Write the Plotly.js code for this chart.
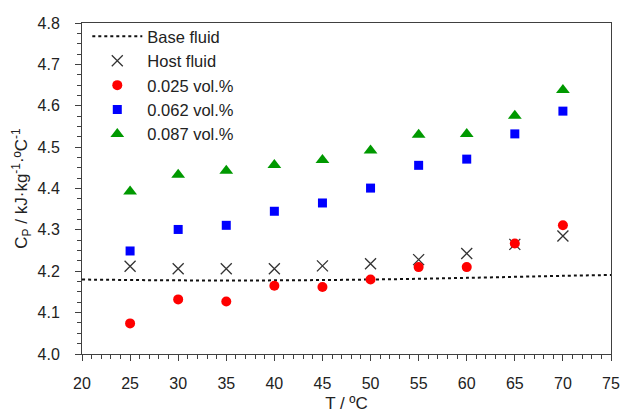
<!DOCTYPE html>
<html>
<head>
<meta charset="utf-8">
<script src="https://cdn.plot.ly/plotly-3.0.1.min.js"></script>
<style>html,body{margin:0;padding:0;background:#fff;}#chart{width:623px;height:413px;}</style>
</head>
<body>
<div id="chart"></div>
<script>
// Temperatures (°C)
const temps = [25, 30, 35, 40, 45, 50, 55, 60, 65, 70];
// Base fluid (dotted curve)
const baseT = [20, 30, 40, 50, 60, 70, 75];
const baseCp = [4.180, 4.178, 4.178, 4.180, 4.184, 4.189, 4.191];
// Host fluid
const hostCp = [4.212, 4.206, 4.206, 4.206, 4.213, 4.218, 4.228, 4.243, 4.265, 4.285];
// 0.025 vol.%
const cp025 = [4.074, 4.132, 4.127, 4.165, 4.162, 4.180, 4.210, 4.210, 4.267, 4.311];
// 0.062 vol.%
const cp062 = [4.249, 4.301, 4.311, 4.345, 4.365, 4.401, 4.456, 4.471, 4.532, 4.587];
// 0.087 vol.%
const cp087 = [4.393, 4.433, 4.443, 4.457, 4.469, 4.492, 4.530, 4.532, 4.576, 4.638];
const names = ['Base fluid', 'Host fluid', '0.025 vol.%', '0.062 vol.%', '0.087 vol.%'];

const traces = [
  {x: baseT, y: baseCp, name: names[0], mode: 'lines', line: {color: '#111', width: 2, dash: 'dot', shape: 'spline'}},
  {x: temps, y: hostCp, name: names[1], mode: 'markers', marker: {symbol: 'x-thin-open', size: 11, line: {color: '#333', width: 1.3}, color: '#333'}},
  {x: temps, y: cp025, name: names[2], mode: 'markers', marker: {symbol: 'circle', size: 10, color: '#ff0000'}},
  {x: temps, y: cp062, name: names[3], mode: 'markers', marker: {symbol: 'square', size: 9, color: '#0000ff'}},
  {x: temps, y: cp087, name: names[4], mode: 'markers', marker: {symbol: 'triangle-up', size: 12, color: '#009900'}}
];

const axisCommon = {
  showgrid: false, zeroline: false, showline: true, linecolor: '#404040', linewidth: 1,
  mirror: true, ticks: 'outside', ticklen: 6, tickwidth: 1, tickcolor: '#404040',
  tickfont: {family: 'Liberation Sans, Arial, sans-serif', size: 16, color: '#222'}
};

const layout = {
  width: 623, height: 413,
  margin: {l: 82, r: 12, t: 23, b: 59},
  paper_bgcolor: '#fff', plot_bgcolor: '#fff',
  showlegend: true,
  legend: {x: 0.01, y: 1.012, xanchor: 'left', yanchor: 'top', bgcolor: 'rgba(0,0,0,0)', itemwidth: 50,
           font: {family: 'Liberation Sans, Arial, sans-serif', size: 16.5, color: '#222'}},
  xaxis: Object.assign({}, axisCommon, {
    range: [20, 75], tickvals: [20,25,30,35,40,45,50,55,60,65,70,75], ticktext: ['20','25','30','35','40','45','50','55','60','65','70','75'],
    minor: {dtick: 1, ticklen: 4, tickcolor: '#404040', ticks: 'outside'},
    ticklabelstandoff: 9,
    title: {text: 'T / ºC', font: {family: 'Liberation Sans, Arial, sans-serif', size: 17, color: '#222'}, standoff: 5}
  }),
  yaxis: Object.assign({}, axisCommon, {
    range: [4.0, 4.8], tickvals: [4.0,4.1,4.2,4.3,4.4,4.5,4.6,4.7,4.8], ticktext: ['4.0','4.1','4.2','4.3','4.4','4.5','4.6','4.7','4.8'],
    minor: {dtick: 0.025, ticklen: 4, tickcolor: '#404040', ticks: 'outside'},
    ticklabelstandoff: 12,
    title: {text: 'C<sub>P</sub> / kJ·kg<sup>-1</sup>·ºC<sup>-1</sup>', font: {family: 'Liberation Sans, Arial, sans-serif', size: 17, color: '#222'}, standoff: 5}
  })
};

Plotly.newPlot('chart', traces, layout, {displayModeBar: false, staticPlot: true});
</script>
</body>
</html>
